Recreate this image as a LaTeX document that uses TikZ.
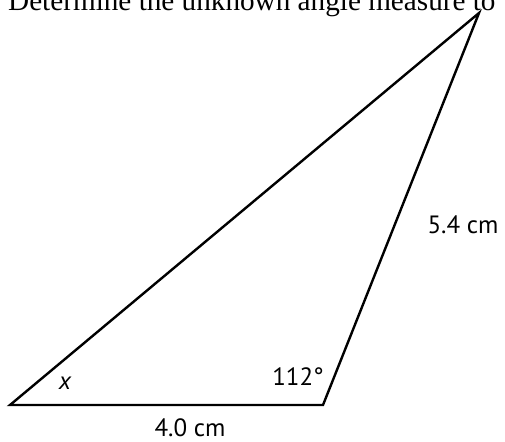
\documentclass[tikz,border=0pt]{standalone}
\usepackage{fontspec}
\setmainfont{Liberation Serif}
\newfontfamily\lblfont{PT Sans}
\begin{document}
\begin{tikzpicture}[x=1pt,y=1pt,
  edge/.style={line width=2.4pt,line join=miter},
  lbl/.style={font=\lblfont\fontsize{25}{30}\selectfont,inner sep=0pt}]
\useasboundingbox (0,0) rectangle (505,441);
\begin{scope}
\clip (0,0) rectangle (505,441);
\node[anchor=base west,inner sep=0pt,font=\fontsize{29.2}{34}\selectfont] (title) at (8,430) {Determine the unknown angle measure to};
\end{scope}
\coordinate (A) at (10,36);
\coordinate (B) at (323,36);
\coordinate (C) at (479,428);
\draw[edge] (A) -- (B) -- (C) -- cycle;
\node[lbl] (x) at (65,58) {\itshape x};
\node[lbl] (ang) at (298,64) {112°};
\node[lbl] (s1) at (463,216) {5.4 cm};
\node[lbl] (s2) at (190,13) {4.0 cm};
\end{tikzpicture}
\end{document}
